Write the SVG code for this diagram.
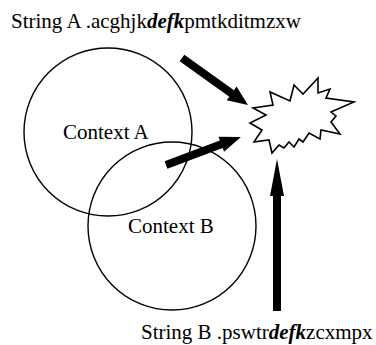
<svg xmlns="http://www.w3.org/2000/svg" width="376" height="345" viewBox="0 0 376 345">
<style>
.t{font-family:"Liberation Serif",serif;font-size:21px;fill:#000}
.bi{font-weight:bold;font-style:italic}
.ctx{fill:none;stroke:#000;stroke-width:1.4}
.burst{fill:#fff;stroke:#000;stroke-width:1.6;stroke-linejoin:miter}
.arr{fill:#000;stroke:none}
</style>
<g id="contextA">
<circle class="ctx" cx="108" cy="132" r="84"/>
<text class="t" x="63" y="139">Context A</text>
</g>
<g id="contextB">
<circle class="ctx" cx="172" cy="226" r="84"/>
<text class="t" x="128" y="233">Context B</text>
</g>
<g id="burst">
<polygon class="burst" points="253,108 273,105 270,92 290,101 294,85 303,94 318,78 318,93 330,89 326,98 354,102 331,112 336,116 331,122 340,134 321,130 320,139 309,133 303,142 299,139 294,147 289,142 284,148 279,145 272,153 269,140 254,142 262,130 250,123 266,115"/>
</g>
<g id="stringA">
<text class="t" x="11" y="28">String A .acghjk<tspan class="bi">defk</tspan>pmtkditmzxw</text>
</g>
<g id="stringB">
<text class="t" x="141" y="339">String B .pswtr<tspan class="bi">defk</tspan>zcxmpx</text>
</g>
<g id="connectors">
<polygon class="arr" points="0,-4 61,-4 61,-8.5 81,0 61,8.5 61,4 0,4" transform="translate(182,58) rotate(35.5)"/>
<polygon class="arr" points="0,-4 59,-4 59,-8 80,0 59,8 59,4 0,4" transform="translate(166,165) rotate(-20.5)"/>
<polygon class="arr" points="0,-4 115,-4 115,-7 152,0 115,7 115,4 0,4" transform="translate(277,311) rotate(-90)"/>
</g>
</svg>
